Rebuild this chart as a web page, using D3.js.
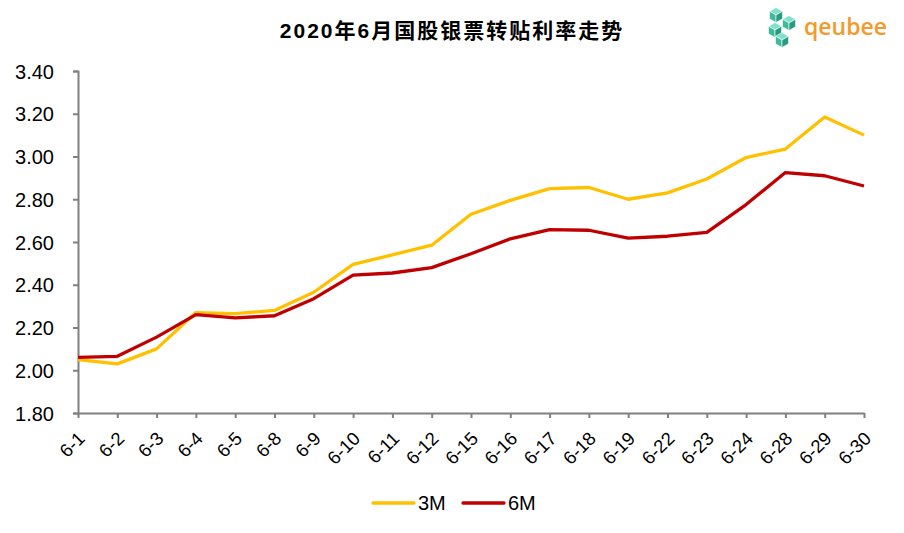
<!DOCTYPE html>
<html>
<head>
<meta charset="utf-8">
<script src="https://cdn.jsdelivr.net/npm/d3@7"></script>
<style>
  body { margin: 0; background: #fff; }
  svg { font-family: "Liberation Sans", Arial, sans-serif; }
</style>
</head>
<body>
<div id="chart"></div>
<script>
// categories and series
const dates = ["6-1", "6-2", "6-3", "6-4", "6-5", "6-8", "6-9", "6-10", "6-11", "6-12",
  "6-15", "6-16", "6-17", "6-18", "6-19", "6-22", "6-23", "6-24", "6-28", "6-29", "6-30"];
const rate3M = [2.05, 2.03, 2.10, 2.27, 2.265, 2.28, 2.365, 2.495, 2.54, 2.585,
  2.73, 2.795, 2.85, 2.855, 2.80, 2.83, 2.895, 2.995, 3.035, 3.185, 3.10];
const rate6M = [2.06, 2.065, 2.155, 2.26, 2.245, 2.255, 2.335, 2.445, 2.455, 2.48,
  2.545, 2.615, 2.658, 2.655, 2.618, 2.627, 2.645, 2.775, 2.925, 2.91, 2.862];
const yTicks = [1.8, 2.0, 2.2, 2.4, 2.6, 2.8, 3.0, 3.2, 3.4];
const seriesNames = ["3M", "6M"];
const seriesColors = ["#FFC000", "#C00000"];

const W = 904, H = 533;
let margin = { top: 71, right: 40, bottom: 120, left: 78 },
  width = W - margin.left - margin.right,
  height = H - margin.top - margin.bottom;

let svg = d3.select("#chart").append("svg")
  .attr("width", W)
  .attr("height", H);

// title
svg.append("text")
  .attr("x", 452)
  .attr("y", 38)
  .attr("text-anchor", "middle")
  .style("font-size", "21px")
  .style("font-weight", "bold")
  .style("letter-spacing", "2px")
  .style("font-family", "'Liberation Sans', 'Noto Sans CJK SC', sans-serif")
  .text("2020年6月国股银票转贴利率走势");

// logo: little cubes + wordmark
const logo = svg.append("g").attr("transform", "translate(767,8)");
const cube = (cx, cy, r) => {
  const h = r * Math.sqrt(3) / 2;
  const top = [[cx, cy - r], [cx + h, cy - r / 2], [cx, cy], [cx - h, cy - r / 2]];
  const left = [[cx - h, cy - r / 2], [cx, cy], [cx, cy + r], [cx - h, cy + r / 2]];
  const right = [[cx + h, cy - r / 2], [cx + h, cy + r / 2], [cx, cy + r], [cx, cy]];
  [[top, "#7FE3CB"], [left, "#3DBA9B"], [right, "#2A9A7E"]].forEach(([pts, c]) => {
    logo.append("polygon").attr("points", pts.join(" ")).attr("fill", c)
      .attr("stroke", "#fff").attr("stroke-width", 0.6);
  });
};
cube(9, 7, 7.5);
cube(22, 15, 7.5);
cube(8, 22, 7.5);
cube(15, 32, 7.5);
svg.append("text")
  .attr("x", 804)
  .attr("y", 35)
  .style("font-family", "'Open Sans', sans-serif")
  .style("font-size", "23px")
  .style("font-weight", "600")
  .attr("fill", "#F39A2B")
  .text("qeubee");

let g = svg.append("g")
  .attr("transform", "translate(" + margin.left + "," + margin.top + ")");

// set the ranges
let x = d3.scalePoint().domain(dates).range([0, width]);
let y = d3.scaleLinear().domain([1.8, 3.4]).range([height, 0]);

// Y axis
let yAxis = g.append("g")
  .call(d3.axisLeft(y).tickValues(yTicks).tickFormat(d3.format(".2f")).tickSize(5).tickPadding(19));
// X axis
let xAxis = g.append("g")
  .attr("transform", "translate(0," + height + ")")
  .call(d3.axisBottom(x).tickSize(5).tickSizeOuter(0));

[yAxis, xAxis].forEach(a => {
  a.select(".domain").attr("stroke", "#808080").attr("stroke-width", 2);
  a.selectAll(".tick line").attr("stroke", "#808080").attr("stroke-width", 2);
  a.selectAll("text").attr("fill", "#000")
    .style("font-family", "'Liberation Sans', Arial, sans-serif");
});
yAxis.selectAll("text").style("font-size", "20px").attr("dy", "0.36em");
xAxis.selectAll("text").style("font-size", "18.5px");
yAxis.selectAll(".tick line").attr("x2", -5);
xAxis.selectAll(".tick line").attr("y2", 5);
xAxis.selectAll("text")
  .attr("text-anchor", "end")
  .attr("dy", "0")
  .attr("transform", "translate(2,21) rotate(-45)");

// the lines
let valueline = d3.line()
  .x((d, i) => x(dates[i]))
  .y(d => y(d));

[rate3M, rate6M].forEach((s, i) => {
  g.append("path")
    .datum(s)
    .attr("fill", "none")
    .attr("stroke", seriesColors[i])
    .attr("stroke-width", 3.3)
    .attr("stroke-linejoin", "round")
    .attr("d", valueline);
});

// legend
const legendX = [373, 463];
seriesNames.forEach((n, i) => {
  svg.append("line")
    .attr("x1", legendX[i]).attr("x2", legendX[i] + 41)
    .attr("y1", 503).attr("y2", 503)
    .attr("stroke", seriesColors[i])
    .attr("stroke-width", 3.3)
    .attr("stroke-linecap", "round");
  svg.append("text")
    .attr("x", legendX[i] + 45)
    .attr("y", 510)
    .style("font-size", "20px")
    .text(n);
});
</script>
</body>
</html>
